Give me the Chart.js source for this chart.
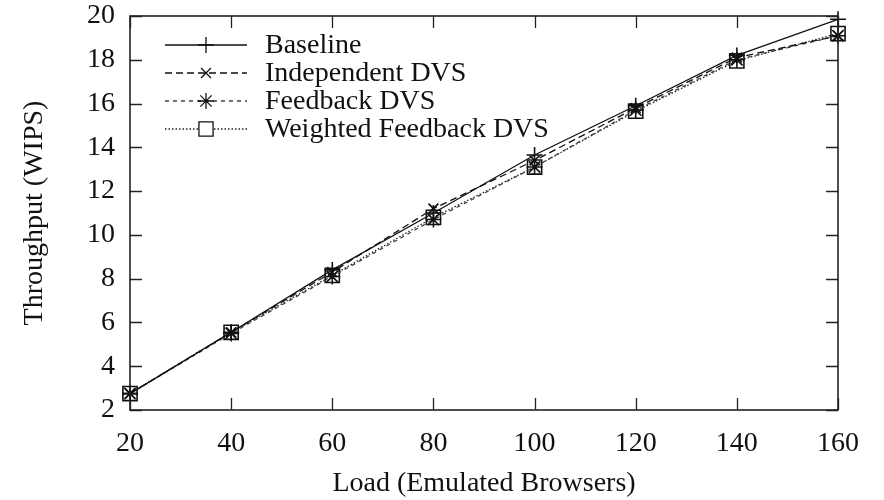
<!DOCTYPE html>
<html><head><meta charset="utf-8">
<script src="https://cdn.jsdelivr.net/npm/chart.js@4"></script>
<style>html,body{margin:0;padding:0;background:#fff}#wrap{width:884px;height:500px}</style>
</head><body><div id="wrap"><canvas id="c" width="884" height="500"></canvas></div>
<script>
const loads = [20, 40, 60, 80, 100, 120, 140, 160];
const baseline = [2.75, 5.55, 8.4, 11.0, 13.65, 15.9, 18.2, 19.85];
const independent = [2.75, 5.55, 8.3, 11.2, 13.4, 15.8, 18.1, 19.1];
const feedback = [2.75, 5.5, 8.1, 10.7, 13.1, 15.7, 18.0, 19.1];
const weighted = [2.75, 5.55, 8.15, 10.8, 13.1, 15.65, 17.95, 19.2];
const yTicks = [2, 4, 6, 8, 10, 12, 14, 16, 18, 20];
const seriesLabels = ['Baseline', 'Independent DVS', 'Feedback DVS', 'Weighted Feedback DVS'];

const FONT = "'Liberation Serif', 'DejaVu Serif', serif";
const FS = 28;
const styles = [
  {color:'#111', dash:[], style:'cross', r:8},
  {color:'#111', dash:[7,4], style:'crossRot', r:7},
  {color:'#444', dash:[4,4], style:'star', r:8},
  {color:'#222', dash:[1.5,2], style:'rect', r:10}
];
const dataSets = [baseline, independent, feedback, weighted];

const inwardTicks = {
  id:'inwardTicks',
  afterDatasetsDraw(chart){
    const {ctx, chartArea:a, scales:{x,y}} = chart;
    ctx.save();
    ctx.strokeStyle='#222'; ctx.lineWidth=1.3;
    const L=12;
    x.ticks.forEach((t,i)=>{
      const px = Math.round(x.getPixelForTick(i))+0.5;
      ctx.beginPath();
      ctx.moveTo(px,a.bottom); ctx.lineTo(px,a.bottom-L);
      ctx.moveTo(px,a.top); ctx.lineTo(px,a.top+L);
      ctx.stroke();
    });
    y.ticks.forEach((t,i)=>{
      const py = Math.round(y.getPixelForTick(i))+0.5;
      ctx.beginPath();
      ctx.moveTo(a.left,py); ctx.lineTo(a.left+L,py);
      ctx.moveTo(a.right,py); ctx.lineTo(a.right-L,py);
      ctx.stroke();
    });
    ctx.lineWidth=1.6;
    ctx.strokeRect(a.left, a.top, a.right-a.left, a.bottom-a.top);
    // legend
    ctx.font = FS+"px "+FONT;
    ctx.textBaseline='middle';
    const rows=[45,73,101,129];
    chart.data.datasets.forEach((ds,i)=>{
      const yy=rows[i];
      ctx.strokeStyle=ds.borderColor; ctx.lineWidth=1.3;
      ctx.setLineDash(ds.borderDash);
      ctx.beginPath(); ctx.moveTo(165,yy); ctx.lineTo(247,yy); ctx.stroke();
      ctx.setLineDash([]);
      ctx.strokeStyle='#111';
      ctx.fillStyle='#fff';
      Chart.helpers.drawPoint(ctx,{pointStyle:ds.pointStyle,radius:ds.pointRadius,rotation:0,borderWidth:1.6},206,yy);
      ctx.fillStyle='#111';
      ctx.fillText(ds.label,265,yy+1);
    });
    ctx.restore();
  }
};

new Chart(document.getElementById('c'), {
  type:'line',
  data:{
    labels: loads,
    datasets: dataSets.map((d,i)=>({
      label: seriesLabels[i],
      data: d,
      borderColor: styles[i].color,
      borderWidth: 1.3,
      borderDash: styles[i].dash,
      pointStyle: styles[i].style,
      pointRadius: styles[i].r,
      pointBorderColor: '#111',
      pointBorderWidth: 1.6,
      pointBackgroundColor: 'rgba(0,0,0,0)',
      fill:false, tension:0, clip:false
    }))
  },
  options:{
    responsive:false, animation:false,
    layout:{padding:{left:0,right:46,top:16,bottom:0}},
    plugins:{legend:{display:false}, tooltip:{enabled:false}},
    scales:{
      x:{
        type:'linear', min:20, max:160,
        afterBuildTicks(s){ s.ticks = loads.map(v=>({value:v})); },
        grid:{display:false, drawTicks:false},
        border:{display:false},
        ticks:{font:{family:FONT,size:FS}, color:'#111', padding:17, maxRotation:0},
        title:{display:true, text:'Load (Emulated Browsers)', font:{family:FONT,size:FS}, color:'#111', padding:{top:10,bottom:0}},
        afterFit(s){ s.height = 90; s.paddingLeft = 0; s.paddingRight = 0; }
      },
      y:{
        min:2, max:20,
        afterBuildTicks(s){ s.ticks = yTicks.map(v=>({value:v})); },
        grid:{display:false, drawTicks:false},
        border:{display:false},
        ticks:{font:{family:FONT,size:FS}, color:'#111', padding:15},
        title:{display:true, text:'Throughput (WIPS)', font:{family:FONT,size:FS}, color:'#111', padding:{top:18,bottom:0}},
        afterFit(s){ s.width = 130; s.paddingTop = 0; s.paddingBottom = 0; }
      }
    }
  },
  plugins:[inwardTicks]
});
</script></body></html>
